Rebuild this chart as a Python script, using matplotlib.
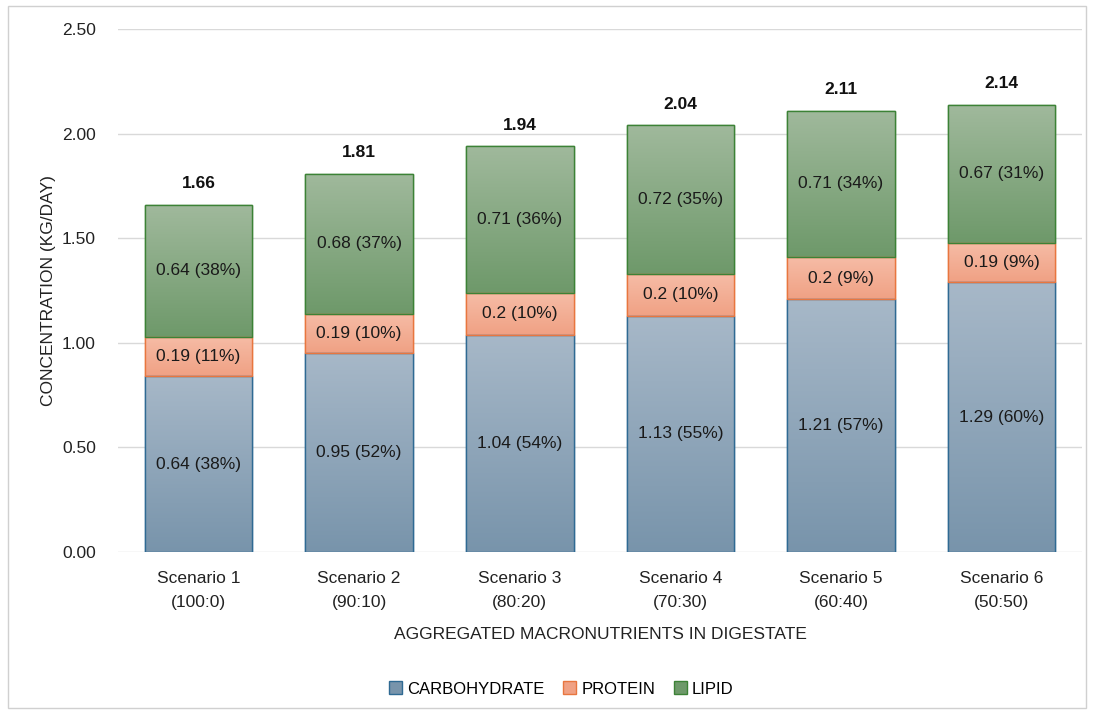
import matplotlib.pyplot as plt
import numpy as np
from matplotlib.patches import Rectangle
from matplotlib.colors import LinearSegmentedColormap

plt.rcParams['font.family'] = ['Liberation Sans', 'DejaVu Sans']

scenarios = ['Scenario 1\n(100:0)', 'Scenario 2\n(90:10)', 'Scenario 3\n(80:20)',
             'Scenario 4\n(70:30)', 'Scenario 5\n(60:40)', 'Scenario 6\n(50:50)']
carbohydrate = [0.84, 0.95, 1.04, 1.13, 1.21, 1.29]
protein = [0.19, 0.19, 0.20, 0.20, 0.20, 0.19]
lipid = [0.63, 0.67, 0.70, 0.71, 0.70, 0.66]
totals = ['1.66', '1.81', '1.94', '2.04', '2.11', '2.14']
carb_labels = ['0.64 (38%)', '0.95 (52%)', '1.04 (54%)', '1.13 (55%)', '1.21 (57%)', '1.29 (60%)']
protein_labels = ['0.19 (11%)', '0.19 (10%)', '0.2 (10%)', '0.2 (10%)', '0.2 (9%)', '0.19 (9%)']
lipid_labels = ['0.64 (38%)', '0.68 (37%)', '0.71 (36%)', '0.72 (35%)', '0.71 (34%)', '0.67 (31%)']

# (top colour, bottom colour, edge colour)
styles = {
    'CARBOHYDRATE': ('#a7b8c8', '#7894ab', '#2f6a93'),
    'PROTEIN': ('#f6bca6', '#f0a184', '#e8763f'),
    'LIPID': ('#a0b99c', '#6e996a', '#3c8236'),
}
fs = 12.5

fig = plt.figure(figsize=(10.94, 7.14), dpi=100)
ax = fig.add_axes([0.108, 0.227, 0.881, 0.732])

x = np.arange(len(scenarios))
width = 0.67
bottom = np.zeros(len(x))
grad = np.linspace(0, 1, 256).reshape(-1, 1)

for name, vals, labels in [('CARBOHYDRATE', carbohydrate, carb_labels),
                           ('PROTEIN', protein, protein_labels),
                           ('LIPID', lipid, lipid_labels)]:
    top_c, bot_c, edge_c = styles[name]
    cmap = LinearSegmentedColormap.from_list(name, [bot_c, top_c])
    bars = ax.bar(x, vals, width, bottom=bottom, color=bot_c, edgecolor=edge_c,
                  linewidth=1.0, label=name, zorder=2)
    for b, lab in zip(bars, labels):
        x0, y0 = b.get_x(), b.get_y()
        w, h = b.get_width(), b.get_height()
        im = ax.imshow(grad, cmap=cmap, origin='lower', aspect='auto',
                       extent=[x0, x0 + w, y0, y0 + h], zorder=2.5)
        im.set_clip_path(b)
        ax.add_patch(Rectangle((x0, y0), w, h, fill=False, edgecolor=edge_c,
                               linewidth=1.0, zorder=3))
        ax.text(x0 + w / 2, y0 + h / 2, lab, ha='center', va='center',
                fontsize=fs, color='#1a1a1a', zorder=4)
    bottom += np.array(vals)

for xi, t, tot in zip(x, totals, bottom):
    ax.text(xi, tot + 0.065, t, ha='center', va='bottom', fontsize=fs,
            fontweight='bold', color='#111111')

ax.set_xlim(-0.5, 5.5)
ax.set_ylim(0, 2.5)
ax.set_yticks(np.arange(0, 2.51, 0.5))
ax.set_yticklabels([f'{v:.2f}' for v in np.arange(0, 2.51, 0.5)])
ax.set_xticks(x)
ax.set_xticklabels(scenarios, linespacing=1.75)
ax.tick_params(axis='both', length=0, labelsize=fs, colors='#222222')
ax.tick_params(axis='x', pad=14)
ax.tick_params(axis='y', pad=16)
ax.grid(axis='y', color='#d9d9d9', linewidth=1.0, zorder=0)
ax.set_axisbelow(True)
for s in ax.spines.values():
    s.set_visible(False)

ax.set_xlabel('AGGREGATED MACRONUTRIENTS IN DIGESTATE', fontsize=fs,
              color='#222222', labelpad=12)
ax.set_ylabel('CONCENTRATION (KG/DAY)', fontsize=fs, color='#222222', labelpad=4)

handles = [Rectangle((0, 0), 1, 1, facecolor=styles[n][1], edgecolor=styles[n][2])
           for n in styles]
fig.legend(handles, list(styles.keys()), loc='center', bbox_to_anchor=(0.513, 0.035),
           ncol=3, frameon=False, fontsize=12, handlelength=0.8, handleheight=0.8,
           columnspacing=1.1, handletextpad=0.3)

fig.patches.append(Rectangle((0.007, 0.008), 0.986, 0.984, transform=fig.transFigure,
                             fill=False, edgecolor='#d0d0d0', linewidth=1.0))

fig.savefig('out.png', dpi=100)
